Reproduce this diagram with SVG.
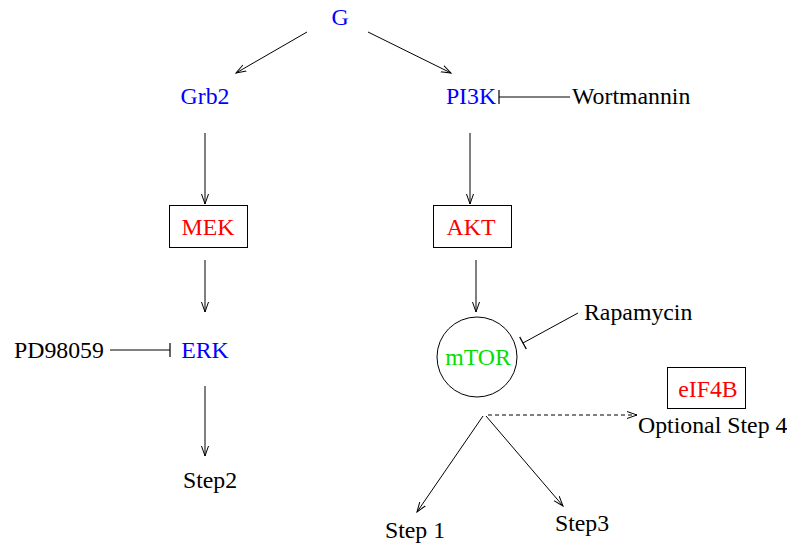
<svg xmlns="http://www.w3.org/2000/svg" width="787" height="548" viewBox="0 0 787 548">
<style>
text{font-family:"Liberation Serif","Times New Roman",serif;font-size:23.8px}
.b{fill:#0000ff}.r{fill:#ff0000}.g{fill:#00e000}.k{fill:#000}
.ln{stroke:#000;stroke-width:1;fill:none}
.box{fill:none;stroke:#000;stroke-width:1}
</style>
<defs>
<marker id="arr" markerWidth="12" markerHeight="10" refX="10" refY="4" orient="auto" markerUnits="userSpaceOnUse">
<path d="M0,0.5 L10,4 L0,7.5" fill="none" stroke="#000" stroke-width="1"/>
</marker>
<marker id="bar" markerWidth="4" markerHeight="14" refX="1" refY="7" orient="auto" markerUnits="userSpaceOnUse">
<path d="M1,0 L1,14" stroke="#000" stroke-width="1.2"/>
</marker>
</defs>
<g id="connectors">
<line class="ln" x1="307" y1="32" x2="236" y2="73" marker-end="url(#arr)"/>
<line class="ln" x1="368" y1="32" x2="451" y2="73" marker-end="url(#arr)"/>
<line class="ln" x1="570" y1="97" x2="499" y2="97" marker-end="url(#bar)"/>
<line class="ln" x1="205" y1="133" x2="205" y2="204" marker-end="url(#arr)"/>
<line class="ln" x1="470" y1="133" x2="470" y2="204" marker-end="url(#arr)"/>
<line class="ln" x1="205" y1="260" x2="205" y2="312" marker-end="url(#arr)"/>
<line class="ln" x1="476" y1="260" x2="476" y2="312" marker-end="url(#arr)"/>
<line class="ln" x1="578" y1="313" x2="523" y2="343" marker-end="url(#bar)"/>
<line class="ln" x1="110" y1="350" x2="170" y2="350" marker-end="url(#bar)"/>
<line class="ln" x1="205" y1="386" x2="205" y2="456" marker-end="url(#arr)"/>
<line class="ln" x1="483" y1="416" x2="417" y2="512" marker-end="url(#arr)"/>
<line class="ln" x1="486" y1="416" x2="563" y2="506" marker-end="url(#arr)"/>
<line class="ln" x1="488" y1="415" x2="637" y2="415" stroke-dasharray="4,3" marker-end="url(#arr)"/>
</g>
<g id="G"><text class="b" x="340" y="25" text-anchor="middle">G</text></g>
<g id="Grb2"><text class="b" x="205" y="104" text-anchor="middle">Grb2</text></g>
<g id="PI3K"><text class="b" x="471" y="104" text-anchor="middle">PI3K</text></g>
<g id="Wortmannin"><text class="k" x="572" y="104">Wortmannin</text></g>
<g id="MEK"><rect class="box" x="169.5" y="205.5" width="78" height="42"/><text class="r" x="208" y="235" text-anchor="middle">MEK</text></g>
<g id="AKT"><rect class="box" x="433.5" y="205.5" width="78" height="42"/><text class="r" x="471" y="235" text-anchor="middle">AKT</text></g>
<g id="mTOR"><circle cx="477" cy="357" r="40" fill="none" stroke="#000"/><text class="g" x="478" y="365" text-anchor="middle">mTOR</text></g>
<g id="Rapamycin"><text class="k" x="584" y="320">Rapamycin</text></g>
<g id="PD98059"><text class="k" x="14" y="358">PD98059</text></g>
<g id="ERK"><text class="b" x="205" y="358" text-anchor="middle">ERK</text></g>
<g id="Step2"><text class="k" x="210" y="488" text-anchor="middle">Step2</text></g>
<g id="eIF4B"><rect class="box" x="667.5" y="367.5" width="78" height="41"/><text class="r" x="708" y="397" text-anchor="middle">eIF4B</text></g>
<g id="OptionalStep4"><text class="k" x="638" y="433">Optional Step 4</text></g>
<g id="Step1"><text class="k" x="415" y="538" text-anchor="middle">Step 1</text></g>
<g id="Step3"><text class="k" x="582" y="531" text-anchor="middle">Step3</text></g>
</svg>
